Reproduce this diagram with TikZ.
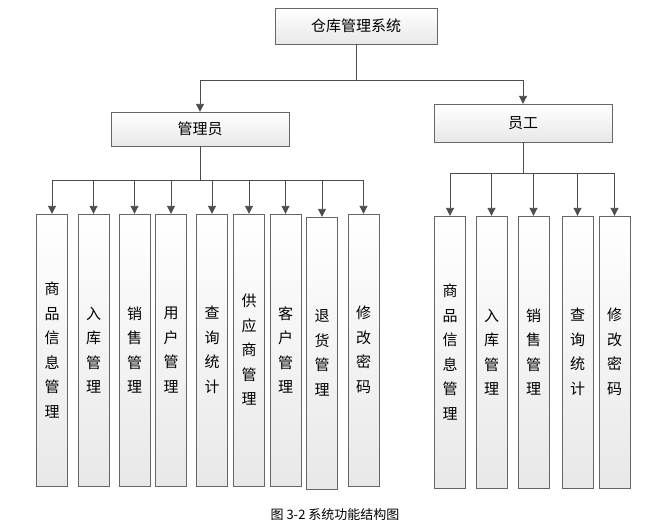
\documentclass[tikz,border=0pt]{standalone}
\usepackage{fontspec}
\newfontfamily\cjk{Noto Sans CJK SC}
\usetikzlibrary{arrows.meta,positioning}

\tikzset{
  box/.style={draw=gray!80!black, top color=white, bottom color=gray!18,
    inner sep=0pt, font=\cjk\fontsize{15}{24.5}\selectfont},
  col/.style={box, minimum width=31pt, minimum height=272pt, align=center},
  link/.style={draw=black!70, line width=0.9pt, -{Triangle[length=8pt,width=8pt]}},
  line/.style={draw=black!70, line width=0.9pt},
}

\begin{document}
\begin{tikzpicture}[x=1pt,y=-1pt]
  \useasboundingbox (0,0) rectangle (672,531);

  \node[box, minimum width=162pt, minimum height=36pt] (sys) at (356,26) {仓库管理系统};
  \node[box, minimum width=178pt, minimum height=34pt] (admin) at (200,129) {管理员};
  \node[box, minimum width=178pt, minimum height=38pt] (staff) at (523,123) {员工};

  \node[col] (a1) at (52,350) {商\\品\\信\\息\\管\\理};
  \node[col] (a2) at (93.5,350) {入\\库\\管\\理};
  \node[col] (a3) at (134.5,350) {销\\售\\管\\理};
  \node[col] (a4) at (171,350) {用\\户\\管\\理};
  \node[col] (a5) at (212,350) {查\\询\\统\\计};
  \node[col] (a6) at (249,350) {供\\应\\商\\管\\理};
  \node[col] (a7) at (285.5,350) {客\\户\\管\\理};
  \node[col] (a8) at (322,353) {退\\货\\管\\理};
  \node[col] (a9) at (363.5,350) {修\\改\\密\\码};

  \node[col] (b1) at (450,352) {商\\品\\信\\息\\管\\理};
  \node[col] (b2) at (491.5,352) {入\\库\\管\\理};
  \node[col] (b3) at (533.5,352) {销\\售\\管\\理};
  \node[col] (b4) at (577.5,352) {查\\询\\统\\计};
  \node[col] (b5) at (614.5,352) {修\\改\\密\\码};

  \coordinate (top) at (356,80);
  \coordinate (asplit) at (200,180);
  \coordinate (bsplit) at (523,173);

  % top level
  \draw[line] (sys.south) -- (top);
  \draw[link] (top) -| (admin.north);
  \draw[link] (top) -| (staff.north);

  % administrator
  \draw[line] (admin.south) -- (asplit);
  \foreach \n in {a1,a2,a3,a4,a5,a6,a7,a8,a9}
    \draw[link] (asplit) -| (\n.north);

  % staff
  \draw[line] (staff.south) -- (bsplit);
  \foreach \n in {b1,b2,b3,b4,b5}
    \draw[link] (bsplit) -| (\n.north);

  \node[font=\cjk\fontsize{13}{15}\selectfont] (cap) at (335,515) {图 3-2 系统功能结构图};
\end{tikzpicture}
\end{document}
